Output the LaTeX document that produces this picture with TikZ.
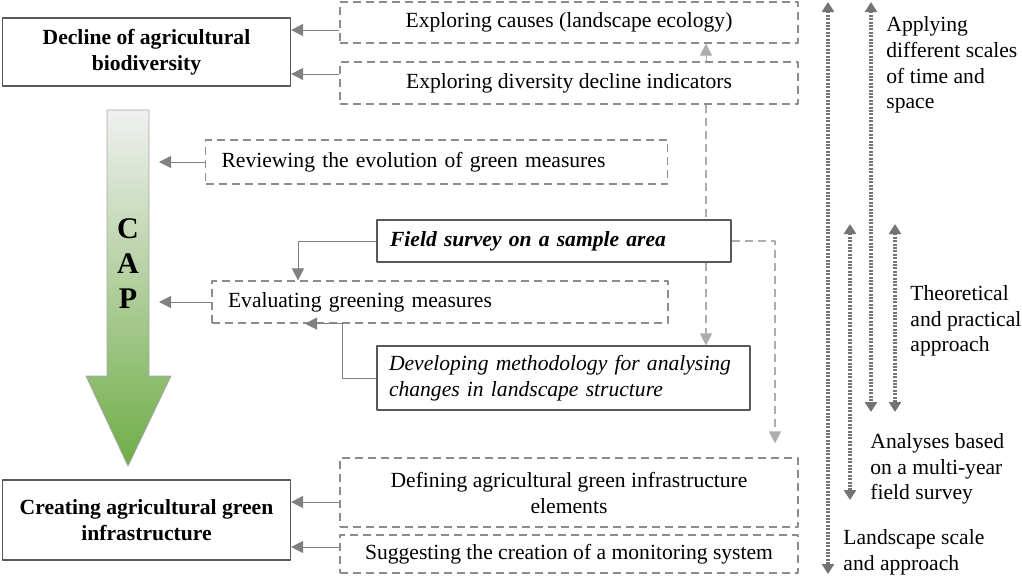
\documentclass[tikz,border=0pt]{standalone}
\usepackage{fontspec}
\setmainfont{Liberation Serif}
\usetikzlibrary{arrows.meta}
\definecolor{capgrey}{RGB}{240,240,240}
\definecolor{capgreen}{RGB}{112,173,71}
\newcommand\figfont{\fontsize{10.8}{12.8}\selectfont}
\begin{document}
\begin{tikzpicture}[x=0.5pt, y=-0.5pt, line join=round, font=\figfont, >={Triangle[width=6pt,length=6pt]}]
\tikzset{
  box/.style={draw=black!65, line width=0.6pt, inner sep=0pt},
  dbox/.style={draw=black!45, line width=0.6pt, dash pattern=on 4pt off 2.5pt, inner sep=0pt},
  conn/.style={draw=black!50, line width=0.5pt, ->},
  lconn/.style={draw=black!32, line width=0.5pt, ->},
  ldash/.style={draw=black!32, line width=0.6pt, dash pattern=on 4pt off 2.5pt},
  span/.style={draw=black!55, line width=1.6pt, dash pattern=on 1pt off 0.7pt, {Triangle[width=6pt,length=5pt]}-{Triangle[width=6pt,length=5pt]}},
  side/.style={anchor=west, align=left, inner sep=0pt},
}
\useasboundingbox (0,0) rectangle (1022,575);
% left column
\node[box, minimum width=144pt, minimum height=34pt, align=center, font=\figfont\bfseries] (decline) at (146.5,52) {Decline of agricultural\\biodiversity};
\node[box, minimum width=144pt, minimum height=40pt, align=center, font=\figfont\bfseries] (create) at (146.5,520) {Creating agricultural green\\infrastructure};
\shade[draw=black!35, line width=0.4pt, top color=capgrey, bottom color=capgreen] (107,110) -- (149,110) -- (149,376) -- (171,376) -- (128,466) -- (86,376) -- (107,376) -- cycle;
\node[align=center, font=\fontsize{15}{17.5}\selectfont\bfseries] (cap) at (128,264) {C\\A\\P};
\coordinate (capR) at (159,0);
% boxes
\node[dbox, minimum width=229pt, minimum height=20.5pt] (causes) at (569,22.5) {Exploring causes (landscape ecology)};
\node[dbox, minimum width=229pt, minimum height=21pt] (indic) at (569,83) {Exploring diversity decline indicators};
\node[dbox, text width=215pt, inner xsep=8pt, minimum height=22pt, align=left] (review) at (436.5,162) {Reviewing the evolution of green measures};
\node[box, text width=164pt, inner xsep=6.5pt, minimum height=21pt, align=left, font=\figfont\bfseries\itshape] (field) at (554,241) {Field survey on a sample area};
\node[dbox, text width=212pt, inner xsep=8pt, minimum height=21pt, align=left] (evalm) at (440,302) {Evaluating greening measures};
\node[box, text width=174.5pt, inner xsep=6pt, minimum height=32pt, align=left, font=\figfont\itshape] (develop) at (563.5,378) {Developing methodology for analysing\\changes in landscape structure};
\node[dbox, minimum width=229pt, minimum height=34.5pt, align=center, font=\fontsize{10.8}{13}\selectfont] (defin) at (569,492.5) {Defining agricultural green infrastructure\\elements};
\node[dbox, minimum width=229pt, minimum height=19pt] (suggest) at (569,554) {Suggesting the creation of a monitoring system};
% connectors
\draw[conn] ([yshift=-3.75pt]causes.west) -- ([yshift=-3.75pt]causes.west -| decline.east);
\draw[conn] ([yshift=4.5pt]indic.west) -- ([yshift=4.5pt]indic.west -| decline.east);
\draw[conn] (review.west) -- (review.west -| capR);
\draw[conn] (evalm.west) -- (evalm.west -| capR);
\draw[conn] (field.west) -| ([xshift=-71pt]evalm.north);
\draw[conn] (develop.west) -| ([xshift=-49pt]evalm.south) -- ([xshift=-67.5pt]evalm.south);
\draw[lconn] ([xshift=68.5pt]indic.north) -- ([xshift=68.5pt]causes.south);
\draw[ldash] ([xshift=68.5pt]indic.south) -- ([xshift=68.5pt]indic.south |- field.north);
\draw[ldash, ->] ([xshift=76pt]field.south) -- ([xshift=76pt]field.south |- develop.north);
\draw[ldash, ->, shorten >=7pt] (field.east) -| ([xshift=103pt]defin.north);
\draw[conn] ([yshift=-4.75pt]defin.west) -- ([yshift=-4.75pt]defin.west -| create.east);
\draw[conn] ([yshift=3.5pt]suggest.west) -- ([yshift=3.5pt]suggest.west -| create.east);
% scale arrows
\coordinate (a1t) at (828,2); \coordinate (a1b) at (828,574);
\coordinate (a2t) at (871,2); \coordinate (a2b) at (871,412);
\coordinate (a3t) at (850,224); \coordinate (a3b) at (850,500);
\coordinate (a4t) at (895,224); \coordinate (a4b) at (895,412);
\draw[span] (a1t) -- (a1b);
\draw[span] (a2t) -- (a2b);
\draw[span] (a3t) -- (a3b);
\draw[span] (a4t) -- (a4b);
\node[side] (scales) at (886,65) {Applying\\different scales\\of time and\\space};
\node[side] (theory) at (910,321) {Theoretical\\and practical\\approach};
\node[side] (survey) at (870,469) {Analyses based\\on a multi-year\\field survey};
\node[side] (lscale) at (843,552) {Landscape scale\\and approach};
\end{tikzpicture}
\end{document}
